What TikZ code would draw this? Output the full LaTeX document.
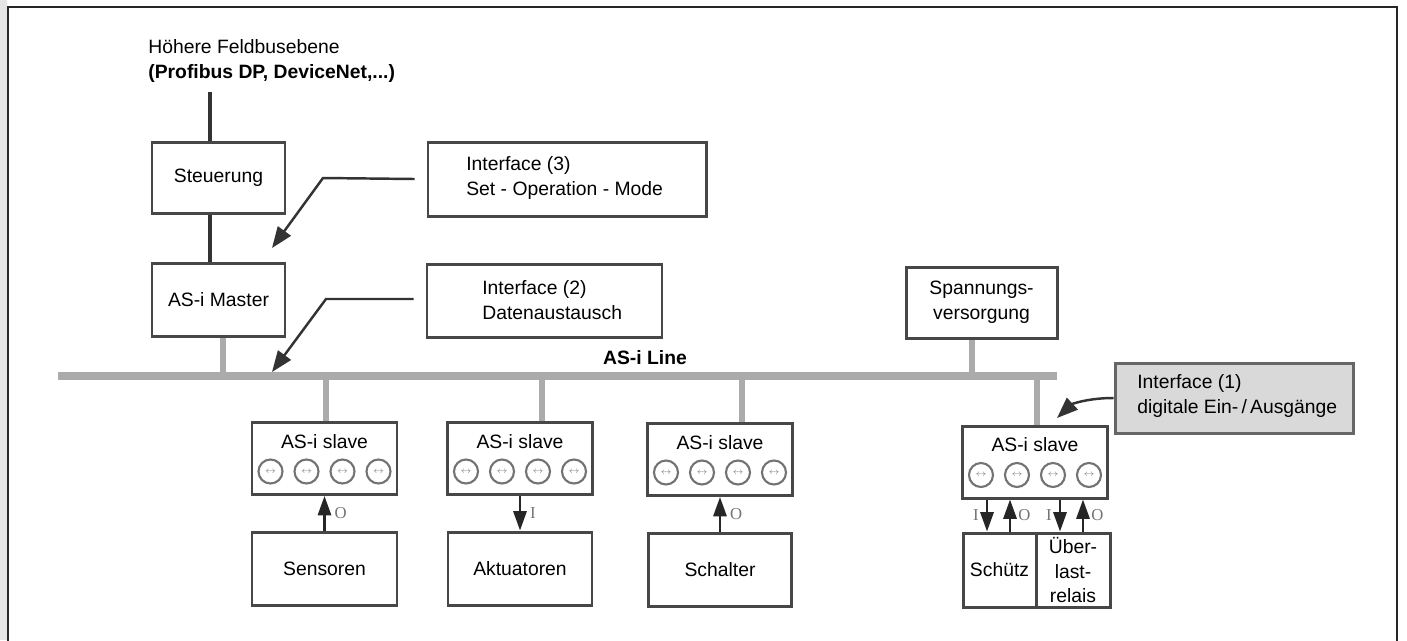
\documentclass[tikz,border=0pt]{standalone}
\usepackage{fontspec}
\setmainfont{Liberation Sans}
\newfontfamily\iofont{Liberation Serif}
\usetikzlibrary{arrows.meta}
\newcommand{\pxu}{0.02cm}

\begin{document}
\begin{tikzpicture}[x=\pxu, y=-\pxu,
    box/.style={rectangle, draw=black!72, line width=1.7pt, fill=white, inner sep=0pt, font=\fontsize{11}{14}\selectfont, align=center},
    wh/.style 2 args={minimum width=#1*\pxu, minimum height=#2*\pxu},
    gbox/.style={box, fill=black!15, draw=black!60},
    txt/.style={font=\fontsize{11}{14}\selectfont, align=left, inner sep=0pt, anchor=west},
    slvtxt/.style={font=\fontsize{11}{14}\selectfont, inner sep=0pt},
    jack/.style={circle, draw=black!55, line width=1.2pt, minimum size=24*\pxu, inner sep=0pt, font=\fontsize{5}{5}\selectfont, text=black!45},
    bus/.style={black!33, line width=4.8pt},
    stem/.style={black!33, line width=3.6pt},
    feed/.style={black!80, line width=1.9pt},
    lead/.style={black!80, line width=1.4pt, -{Triangle[length=12pt, width=9pt]}},
    ioarr/.style={black!85, line width=1.4pt, -{Triangle[length=11pt, width=7.5pt]}},
    iolbl/.style={font=\iofont\fontsize{9.5}{9.5}\selectfont, text=black!55, inner sep=1pt}
]
\useasboundingbox (0,0) rectangle (1407,640);

%  -- frame --
\fill[black!10] (0,0) rectangle (7,640);
\draw[black!85, line width=1.2pt] (8,641) -- (8,7) -- (1397,7) -- (1397,641);

%  -- upper level --
\node[txt] (feld) at (148,61) {Höhere Feldbusebene\\\textbf{(Profibus DP, DeviceNet,...)}};
\coordinate (feedtop) at (210,92);
\node[box, wh={133}{71}] (ctrl)   at (218.5,177.5) {Steuerung};
\node[box, wh={133}{73}] (master) at (218.5,299.5) {AS-i Master};
\draw[feed] (feedtop) -- (feedtop |- ctrl.north);
\draw[feed] ([xshift=-0.17cm]ctrl.south) -- ([xshift=-0.17cm]master.north);

%  -- bus line --
\coordinate (busL) at (58,376);
\coordinate (busR) at (1057,376);
\draw[bus] (busL) -- (busR);
\node[font=\fontsize{11}{14}\selectfont\bfseries, inner sep=0pt] (busname) at (645,358) {AS-i Line};
\draw[stem] ([xshift=0.09cm]master.south) -- ([xshift=0.09cm]master.south |- busL);

\node[box, wh={151}{71}] (spann) at (981.5,302.5) {Spannungs-\\versorgung};
\draw[stem] ([xshift=-0.19cm]spann.south) -- ([xshift=-0.19cm]spann.south |- busL);

%  -- interface notes --
\node[box, wh={278}{74}] (ifc3) at (567,179) {};
\node[txt] (ifc3t) at (466,178) {Interface (3)\\Set - Operation - Mode};
\node[box, wh={235}{73}] (ifc2) at (544.5,300.5) {};
\node[txt] (ifc2t) at (482,300) {Interface (2)\\Datenaustausch};
\node[gbox, wh={238}{70}] (ifc1) at (1234,398) {};
\node[txt] (ifc1t) at (1137,396) {Interface (1)\\digitale Ein-\,/\,Ausgänge};

\coordinate (k3) at (323,178);
\coordinate (t3) at (272,248);
\draw[lead] ([xshift=-0.24cm]ifc3.west) -- (k3) -- (t3);
\coordinate (k2) at (326,299);
\coordinate (t2) at (272,372);
\draw[lead] ([xshift=-0.24cm]ifc2.west |- k2) -- (k2) -- (t2);
\coordinate (t1) at (1057,418);
\draw[lead] (ifc1.west) .. controls (1088,398) and (1072,404) .. (t1);

%  -- slaves --
\foreach \n/\x/\y/\sx in {sl1/324.5/458.5/0.03cm, sl2/520/458.5/0.44cm, sl3/720/459.5/0.44cm, sl4/1035/462/0.04cm} {
  \node[box, wh={145}{72}] (\n) at (\x,\y) {};
  \node[slvtxt] (\n-t) at (\x,\y-17) {AS-i slave};
  \foreach \d [count=\k] in {-54,-18,18,54} {
    \node[jack] (\n-\k) at (\x+\d,\y+13) {$\leftrightarrow$};
  }
  \draw[stem] ([xshift=\sx]\n.north) -- ([xshift=\sx]\n.north |- busL);
}

%  -- field devices --
\node[box, wh={145}{73}] (sens)    at (324.5,568.5) {Sensoren};
\node[box, wh={144}{73}] (akt)     at (520,568.5)   {Aktuatoren};
\node[box, wh={143}{73}] (schalt)  at (720,569.5)   {Schalter};
\node[box, wh={73}{74}]  (schuetz) at (999.5,570)   {Schütz};
\node[box, wh={74}{74}]  (relais)  at (1073,570)    {Über-\\last-\\relais};

\draw[ioarr] (sens) -- (sl1) node[iolbl, midway, right=4pt] (io1) {O};
\draw[ioarr] (sl2) -- (akt) node[iolbl, midway, right=4pt] (io2) {I};
\draw[ioarr] (schalt) -- (sl3) node[iolbl, midway, right=4pt] (io3) {O};
\draw[ioarr] ([xshift=-0.96cm]sl4.south) -- ([xshift=-0.96cm]sl4.south |- schuetz.north) node[iolbl, midway, left=3pt] (io4a) {I};
\draw[ioarr] ([xshift=-0.5cm]sl4.south |- schuetz.north) -- ([xshift=-0.5cm]sl4.south) node[iolbl, midway, right=3pt] (io4b) {O};
\draw[ioarr] ([xshift=0.5cm]sl4.south) -- ([xshift=0.5cm]sl4.south |- relais.north) node[iolbl, midway, left=3pt] (io4c) {I};
\draw[ioarr] ([xshift=0.96cm]sl4.south |- relais.north) -- ([xshift=0.96cm]sl4.south) node[iolbl, midway, right=3pt] (io4d) {O};

\end{tikzpicture}
\end{document}
